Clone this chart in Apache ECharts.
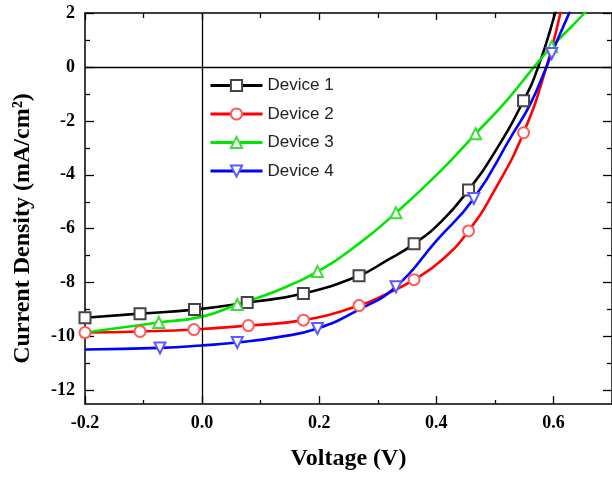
<!DOCTYPE html>
<html>
<head>
<meta charset="utf-8">
<script src="https://cdn.jsdelivr.net/npm/echarts@6/dist/echarts.min.js"></script>
<style>
  * { margin: 0; padding: 0; }
  body { background: #fff; }
  #chart { width: 612px; height: 481px; }
</style>
</head>
<body>
<div id="chart"></div>
<script>
// tick positions
var xMajorTicks = [-0.2, 0.0, 0.2, 0.4, 0.6]
var xMinorTicks = [-0.1, 0.1, 0.3, 0.5, 0.7]
var yMajorTicks = [-12, -10, -8, -6, -4, -2, 0, 2]
var yMinorTicks = [-11, -9, -7, -5, -3, -1, 1]

// Device 1 (black squares)
var dev1V = [-0.2, -0.106, -0.013, 0.077, 0.173, 0.268, 0.315, 0.362, 0.41, 0.455, 0.50, 0.549, 0.574, 0.603, 0.615]
var dev1J = [-9.30, -9.15, -9.00, -8.74, -8.40, -7.74, -7.18, -6.56, -5.70, -4.56, -3.15, -1.25, 0.0, 2.0, 3.0]
var dev1Mk = [0, 1, 2, 3, 4, 5, 7, 9, 11]

// Device 2 (red circles)
var dev2V = [-0.2, -0.106, -0.014, 0.079, 0.173, 0.268, 0.315, 0.362, 0.41, 0.455, 0.50, 0.549, 0.588, 0.612, 0.62]
var dev2J = [-9.85, -9.81, -9.74, -9.59, -9.39, -8.85, -8.42, -7.89, -7.15, -6.08, -4.55, -2.44, 0.0, 2.0, 2.8]
var dev2Mk = [0, 1, 2, 3, 4, 5, 7, 9, 11]

// Device 3 (green up-triangles)
var dev3V = [-0.2, -0.074, 0.0, 0.060, 0.130, 0.197, 0.265, 0.331, 0.404, 0.467, 0.52, 0.567, 0.597, 0.653, 0.67]
var dev3J = [-9.85, -9.48, -9.26, -8.81, -8.28, -7.59, -6.60, -5.41, -3.93, -2.48, -1.25, 0.0, 0.75, 2.0, 2.5]
var dev3Mk = [1, 3, 5, 7, 9, 12]

// Device 4 (blue down-triangles)
var dev4V = [-0.2, -0.072, 0.0, 0.060, 0.130, 0.197, 0.268, 0.331, 0.40, 0.464, 0.53, 0.56, 0.588, 0.597, 0.627, 0.64]
var dev4J = [-10.48, -10.42, -10.33, -10.22, -10.02, -9.70, -9.00, -8.15, -6.45, -4.88, -2.50, -1.40, 0.0, 0.50, 2.0, 2.6]
var dev4Mk = [1, 3, 5, 7, 9, 13]

var serif = 'Liberation Serif'

function pts (vs, js, mk) {
  return vs.map(function (v, i) {
    var item = { value: [v, js[i]] }
    if (mk.indexOf(i) < 0) item.symbol = 'none'
    return item
  })
}

function makeSeries (name, vs, js, mk, lineColor, markColor, symbol, rotate) {
  return {
    name: name,
    type: 'line',
    smooth: 0.5,
    symbol: symbol,
    symbolSize: 11,
    symbolRotate: rotate,
    data: pts(vs, js, mk),
    lineStyle: { color: lineColor, width: 2.6 },
    itemStyle: { color: markColor, borderColor: markColor, borderWidth: 1.2 }
  }
}

function xAx (pos, ticks, len, showLine, showLabel) {
  return {
    type: 'value',
    position: pos,
    min: -0.2,
    max: 0.7,
    axisLine: { show: showLine, onZero: false, lineStyle: { color: '#000', width: 1.5 } },
    axisTick: { inside: true, length: len, customValues: ticks, lineStyle: { color: '#000', width: 1.3 } },
    axisLabel: {
      show: showLabel,
      customValues: ticks,
      formatter: function (v) { return v.toFixed(1) },
      fontFamily: serif, fontWeight: 'bold', fontSize: 18, color: '#000', margin: 10
    },
    splitLine: { show: false }
  }
}

function yAx (pos, ticks, len, showLine, showLabel) {
  return {
    type: 'value',
    position: pos,
    min: -12.5,
    max: 2,
    axisLine: { show: showLine, onZero: false, lineStyle: { color: '#000', width: 1.5 } },
    axisTick: { inside: true, length: len, customValues: ticks, lineStyle: { color: '#000', width: 1.3 } },
    axisLabel: {
      show: showLabel,
      customValues: ticks,
      fontFamily: serif, fontWeight: 'bold', fontSize: 18, color: '#000', margin: 10
    },
    splitLine: { show: false }
  }
}

var chart = echarts.init(document.getElementById('chart'))

var bottomX = xAx('bottom', xMajorTicks, 8, true, true)
bottomX.name = 'Voltage (V)'
bottomX.nameLocation = 'middle'
bottomX.nameGap = 43
bottomX.nameTextStyle = { fontFamily: serif, fontWeight: 'bold', fontSize: 24, color: '#000' }

var leftY = yAx('left', yMajorTicks, 9, true, true)
leftY.name = 'Current Density (mA/cm²)'
leftY.nameLocation = 'middle'
leftY.nameGap = 50
leftY.nameTextStyle = { fontFamily: serif, fontWeight: 'bold', fontSize: 24, color: '#000', padding: [0, 40, 0, 0] }

var s1 = makeSeries('Device 1', dev1V, dev1J, dev1Mk, '#000000', '#444444', 'emptyRect', 0)
s1.markLine = {
  silent: true,
  symbol: ['none', 'none'],
  label: { show: false },
  lineStyle: { color: '#000', type: 'solid', width: 1.3 },
  data: [{ xAxis: 0 }, { yAxis: 0 }]
}

chart.setOption({
  animation: false,
  backgroundColor: '#fff',
  grid: { left: 85, right: -3, top: 13, bottom: 77 },
  legend: {
    orient: 'vertical',
    left: 204,
    top: 72,
    itemWidth: 52,
    itemHeight: 14,
    itemGap: 11.5,
    lineStyle: { width: 3 },
    textStyle: { fontFamily: 'Liberation Sans', fontSize: 17, color: '#222' },
    data: ['Device 1', 'Device 2', 'Device 3', 'Device 4']
  },
  xAxis: [
    bottomX,
    xAx('bottom', xMinorTicks, 4, false, false),
    xAx('top', xMajorTicks, 7, true, false),
    xAx('top', xMinorTicks, 5, false, false)
  ],
  yAxis: [
    leftY,
    yAx('left', yMinorTicks, 5, false, false),
    yAx('right', yMajorTicks, 9, true, false),
    yAx('right', yMinorTicks, 5, false, false)
  ],
  series: [
    s1,
    makeSeries('Device 2', dev2V, dev2J, dev2Mk, '#ff0000', '#ff5a5a', 'emptyCircle', 0),
    makeSeries('Device 3', dev3V, dev3J, dev3Mk, '#00e600', '#3ddc3d', 'emptyTriangle', 0),
    makeSeries('Device 4', dev4V, dev4J, dev4Mk, '#0000ff', '#5a5aff', 'emptyTriangle', 180)
  ]
})
</script>
</body>
</html>
